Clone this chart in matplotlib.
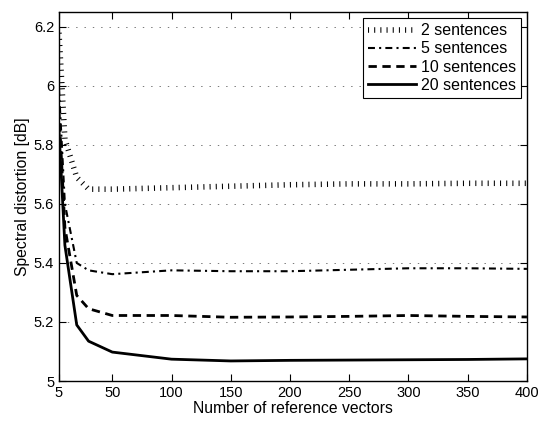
import matplotlib
matplotlib.use("Agg")
import matplotlib.pyplot as plt

plt.rcParams['font.family'] = ['Liberation Sans', 'DejaVu Sans']
plt.rcParams['lines.scale_dashes'] = False

x_vals = [5, 10, 20, 30, 50, 100, 150, 200, 250, 300, 350, 400]
s2 = [6.18, 5.82, 5.69, 5.65, 5.65, 5.655, 5.66, 5.665, 5.668, 5.668, 5.67, 5.67]
s5 = [5.99, 5.60, 5.40, 5.375, 5.362, 5.375, 5.372, 5.372, 5.377, 5.382, 5.382, 5.38]
s10 = [5.92, 5.52, 5.29, 5.245, 5.222, 5.222, 5.216, 5.217, 5.219, 5.222, 5.219, 5.217]
s20 = [5.85, 5.46, 5.19, 5.135, 5.098, 5.074, 5.068, 5.07, 5.071, 5.072, 5.073, 5.075]
labels = ['2 sentences', '5 sentences', '10 sentences', '20 sentences']
xticks = [5, 50, 100, 150, 200, 250, 300, 350, 400]
yticks = [5, 5.2, 5.4, 5.6, 5.8, 6, 6.2]
ytick_labels = ['5', '5.2', '5.4', '5.6', '5.8', '6', '6.2']

fig = plt.figure(figsize=(5.41, 4.26), dpi=100)
ax = fig.add_axes([0.109, 0.1056, 0.865, 0.866])

ax.plot(x_vals, s2, color='black', lw=4.0, dash_capstyle='butt',
        linestyle=(0, (0.75, 3.7)), label=labels[0])
ax.plot(x_vals, s5, color='black', lw=1.5, dash_capstyle='butt',
        linestyle=(0, (5.0, 3.0, 1.5, 3.0)), label=labels[1])
ax.plot(x_vals, s10, color='black', lw=2.0, dash_capstyle='butt',
        linestyle=(0, (6.0, 4.0)), label=labels[2])
ax.plot(x_vals, s20, color='black', lw=2.0, label=labels[3])

ax.set_xlim(5, 400)
ax.set_ylim(5, 6.25)
ax.set_xticks(xticks)
ax.set_yticks(yticks)
ax.set_yticklabels(ytick_labels)
ax.yaxis.grid(True, linestyle=(0, (1, 5)), color='#777777', lw=0.7)
ax.tick_params(direction='in', top=True, right=True, length=5, labelsize=10.5)
for sp in ax.spines.values():
    sp.set_linewidth(1.0)

ax.set_xlabel('Number of reference vectors', fontsize=11.3, labelpad=1)
ax.set_ylabel('Spectral distortion [dB]', fontsize=11.3, labelpad=3)

leg = ax.legend(loc='upper right', fontsize=11.5, fancybox=False, framealpha=1,
                edgecolor='black', handlelength=3.0, borderpad=0.3,
                labelspacing=0.2, handletextpad=0.3, borderaxespad=0.4)
leg.get_frame().set_linewidth(0.8)

fig.savefig('out.png', dpi=100)
